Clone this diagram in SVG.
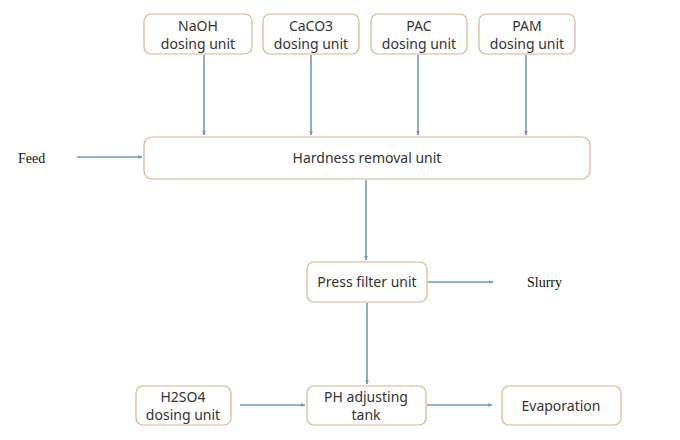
<svg xmlns="http://www.w3.org/2000/svg" width="680" height="440" viewBox="0 0 680 440">
<style>
.box{fill:#fff;stroke:#d8b48c;stroke-width:1.2}
.t{font-family:"Noto Sans","Liberation Sans",sans-serif;font-size:14px;fill:#333;text-anchor:middle}
.s{font-family:"Liberation Serif",serif;font-size:14px;fill:#111}
.c{stroke:#6b9bc3;stroke-width:1.6;fill:none;marker-end:url(#ah)}
</style>
<defs>
<marker id="ah" viewBox="0 0 10 10" refX="9" refY="5" markerWidth="5" markerHeight="5" orient="auto" markerUnits="userSpaceOnUse">
<path d="M0,1 L10,5 L0,9 z" fill="#6b9bc3"/>
</marker>
</defs>
<rect width="680" height="440" fill="#fff"/>
<g id="naoh"><rect class="box" x="144" y="14" width="108" height="40" rx="7"/><text class="t" x="198" y="31">NaOH</text><text class="t" x="198" y="49">dosing unit</text></g>
<g id="caco3"><rect class="box" x="263" y="14" width="96" height="40" rx="7"/><text class="t" x="311" y="31">CaCO3</text><text class="t" x="311" y="49">dosing unit</text></g>
<g id="pac"><rect class="box" x="371" y="14" width="96" height="40" rx="7"/><text class="t" x="419" y="31">PAC</text><text class="t" x="419" y="49">dosing unit</text></g>
<g id="pam"><rect class="box" x="479" y="14" width="96" height="40" rx="7"/><text class="t" x="527" y="31">PAM</text><text class="t" x="527" y="49">dosing unit</text></g>
<g id="feed"><text class="s" x="18" y="163">Feed</text></g>
<g id="hardness"><rect class="box" x="144" y="137" width="446" height="42" rx="8"/><text class="t" x="367" y="163">Hardness removal unit</text></g>
<g id="press"><rect class="box" x="307" y="262" width="120" height="40" rx="7"/><text class="t" x="367" y="287">Press filter unit</text></g>
<g id="slurry"><text class="s" x="527" y="287">Slurry</text></g>
<g id="h2so4"><rect class="box" x="136" y="386" width="95" height="39" rx="7"/><text class="t" x="183" y="402">H2SO4</text><text class="t" x="183" y="420">dosing unit</text></g>
<g id="ph"><rect class="box" x="307" y="386" width="119" height="39" rx="7"/><text class="t" x="366" y="402">PH adjusting</text><text class="t" x="366" y="420">tank</text></g>
<g id="evap"><rect class="box" x="502" y="386" width="119" height="39" rx="7"/><text class="t" x="561" y="411">Evaporation</text></g>
<g id="connectors">
<line class="c" x1="204" y1="55" x2="204" y2="135"/>
<line class="c" x1="311" y1="55" x2="311" y2="135"/>
<line class="c" x1="418" y1="55" x2="418" y2="135"/>
<line class="c" x1="526" y1="55" x2="526" y2="135"/>
<line class="c" x1="77" y1="157" x2="142" y2="157"/>
<line class="c" x1="366" y1="180" x2="366" y2="260"/>
<line class="c" x1="428" y1="282" x2="493" y2="282"/>
<line class="c" x1="367" y1="303" x2="367" y2="384"/>
<line class="c" x1="240" y1="405" x2="305" y2="405"/>
<line class="c" x1="427" y1="405" x2="492" y2="405"/>
</g>
</svg>
